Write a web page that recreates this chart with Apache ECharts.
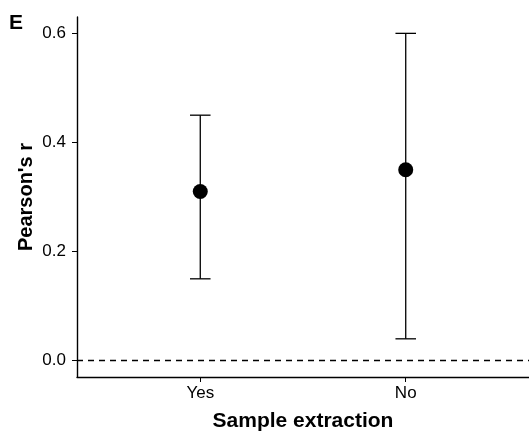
<!DOCTYPE html>
<html>
<head>
<meta charset="utf-8">
<script src="https://cdn.jsdelivr.net/npm/echarts@6/dist/echarts.min.js"></script>
<style>
  html, body { margin: 0; padding: 0; background: #fff; }
  #chart { width: 529px; height: 437px; }
</style>
</head>
<body>
<div id="chart"></div>
<script>
// data
var categories = ['Yes', 'No'];
var estimate = [0.31, 0.35];
var lower = [0.15, 0.04];
var upper = [0.45, 0.60];
var yTicks = [0, 0.2, 0.4, 0.6];

var FONT = 'Liberation Sans, Arial, Helvetica, sans-serif';

var pointData = [];
var barData = [];
for (var i = 0; i < categories.length; i++) {
  pointData.push([i + 1, estimate[i]]);
  barData.push([i + 1, lower[i], upper[i]]);
}

var chart = echarts.init(document.getElementById('chart'));

var option = {
  animation: false,
  backgroundColor: '#fff',
  title: {
    text: 'E',
    left: 9,
    top: 13,
    padding: 0,
    textStyle: { fontFamily: FONT, fontSize: 21, fontWeight: 'bold', color: '#000' }
  },
  grid: { left: 77, right: 0, top: 17, bottom: 59 },
  xAxis: {
    type: 'value',
    min: 0.4,
    max: 2.6,
    splitLine: { show: false },
    axisLine: { onZero: false, lineStyle: { color: '#000', width: 1.4 } },
    axisTick: { customValues: [1, 2], length: 5, lineStyle: { color: '#000', width: 1 } },
    axisLabel: {
      customValues: [1, 2],
      margin: 8,
      color: '#000',
      fontFamily: FONT,
      fontSize: 17,
      formatter: function (v) { return categories[Math.round(v) - 1]; }
    },
    name: 'Sample extraction',
    nameLocation: 'middle',
    nameGap: 34,
    nameTextStyle: { fontFamily: FONT, fontSize: 21, fontWeight: 'bold', color: '#000' }
  },
  yAxis: {
    type: 'value',
    min: -0.03,
    max: 0.63,
    splitLine: { show: false },
    axisLine: { show: true, onZero: false, lineStyle: { color: '#000', width: 1.4 } },
    axisTick: { show: true, customValues: yTicks, length: 5, lineStyle: { color: '#000', width: 1 } },
    axisLabel: {
      customValues: yTicks,
      margin: 11,
      color: '#000',
      fontFamily: FONT,
      fontSize: 17,
      formatter: function (v) { return v.toFixed(1); }
    },
    name: "Pearson's r",
    nameLocation: 'middle',
    nameRotate: 90,
    nameGap: 41,
    nameMoveOverlap: false,
    nameTextStyle: { fontFamily: FONT, fontSize: 20, fontWeight: 'bold', color: '#000' }
  },
  series: [
    {
      type: 'custom',
      data: barData,
      renderItem: function (params, api) {
        var x = api.value(0);
        var lo = api.coord([x, api.value(1)]);
        var hi = api.coord([x, api.value(2)]);
        var half = api.size([0.05, 0])[0];
        var style = { stroke: '#000', lineWidth: 1.3 };
        return {
          type: 'group',
          children: [
            { type: 'line', shape: { x1: lo[0], y1: lo[1], x2: hi[0], y2: hi[1] }, style: style },
            { type: 'line', shape: { x1: lo[0] - half, y1: lo[1], x2: lo[0] + half, y2: lo[1] }, style: style },
            { type: 'line', shape: { x1: hi[0] - half, y1: hi[1], x2: hi[0] + half, y2: hi[1] }, style: style }
          ]
        };
      },
      markLine: {
        silent: true,
        symbol: 'none',
        label: { show: false },
        lineStyle: { color: '#000', type: [6, 5], width: 1.3 },
        data: [{ yAxis: 0 }]
      },
      z: 2
    },
    {
      type: 'scatter',
      data: pointData,
      symbol: 'circle',
      symbolSize: 15,
      itemStyle: { color: '#000', opacity: 1 },
      z: 3
    }
  ]
};

chart.setOption(option);
</script>
</body>
</html>
